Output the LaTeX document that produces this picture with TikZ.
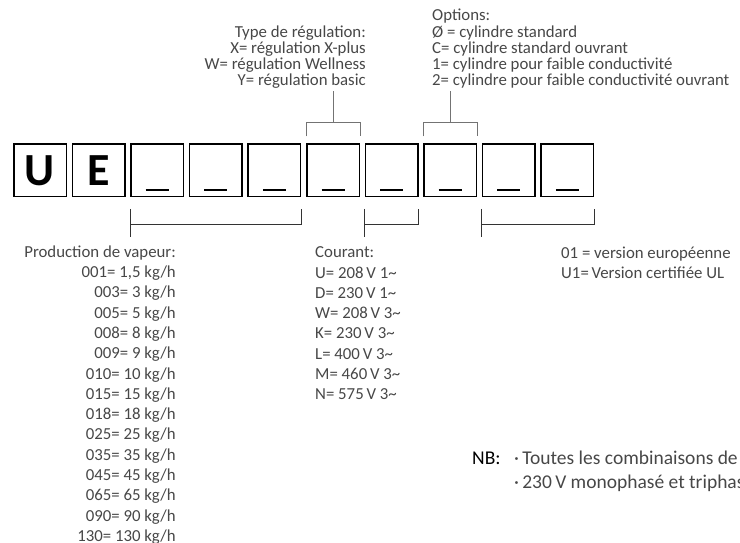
\documentclass[tikz,border=0pt]{standalone}
\usepackage{fontspec}
\setmainfont{Carlito}
\begin{document}
\begin{tikzpicture}[x=1pt, y=-1pt,
    codebox/.style={draw, line width=1.5pt, minimum size=52.5pt, inner sep=0pt, font=\fontsize{46}{46}\selectfont\bfseries},
    codebar/.style={line width=2pt},
    brk/.style={line width=0.8pt, black!80},
    topbrk/.style={line width=0.8pt, black!55},
    txt/.style={font=\fontsize{16.8}{20}\selectfont, text=black!72, inner sep=0pt},
    nbtxt/.style={font=\fontsize{19.5}{24}\selectfont, text=black!72, inner sep=0pt},
  ]
    % page frame, text running past it is cut
    \useasboundingbox (0,0) rectangle (740,543);
    \clip (0,0) rectangle (740,543);

    % === Code boxes U E _ _ _ ... ===
    \foreach \i/\l in {1/U,2/E,3/,4/,5/,6/,7/,8/,9/,10/} {
      \node[codebox] (b\i) at ({40+58.6*(\i-1)},170.4) {\l};
    }
    \foreach \i in {3,...,10} {
      \draw[codebar] ([xshift=-11.5pt,yshift=7pt]b\i.south) -- ([xshift=11.5pt,yshift=7pt]b\i.south);
    }

    % === Top brackets ===
    \foreach \i in {6,8} {
      \draw[topbrk] ([yshift=7pt]b\i.north west) -- ([yshift=21pt]b\i.north west)
        -- ([yshift=21pt]b\i.north east) -- ([yshift=7pt]b\i.north east);
      \draw[topbrk] ([yshift=21pt]b\i.north) -- ([yshift=52pt]b\i.north);
    }

    % === Bottom brackets ===
    \foreach \a/\b in {3/5, 7/7, 9/10} {
      \draw[brk] ([yshift=-11.5pt]b\a.south west) -- ([yshift=-40pt]b\a.south west);
      \draw[brk] ([yshift=-26.5pt]b\a.south west) -- ([yshift=-26.5pt]b\b.south east)
        -- ([yshift=-11.5pt]b\b.south east);
    }

    % Type de regulation (right aligned)
    \foreach \t [count=\k from 1] in {Type de régulation:, X= régulation X-plus,
        W= régulation Wellness, Y= régulation basic} {
      \node[txt, anchor=base east] (reg\k) at (366,{21+16.1*\k}) {\t};
    }

    % Options
    \foreach \t [count=\k from 0] in {Options:, Ø = cylindre standard,
        C= cylindre standard ouvrant, 1= cylindre pour faible conductivité,
        2= cylindre pour faible conductivité ouvrant} {
      \node[txt, anchor=base west] (opt\k) at (432,{21+16.1*\k}) {\t};
    }

    % Production de vapeur
    \node[txt, anchor=base east] (prod) at (176,257.5) {Production de vapeur:};
    \foreach \c/\v [count=\k from 0] in {001/{1,5}, 003/3, 005/5, 008/8, 009/9,
        010/10, 015/15, 018/18, 025/25, 035/35, 045/45, 065/65, 090/90, 130/130} {
      \node[txt, anchor=base east] (prod\c) at (176,{277.5+20.3*\k}) {\c= \v\ kg/h};
    }

    % Courant
    \foreach \t [count=\k from 0] in {Courant:, U= 208\,V 1\textasciitilde,
        D= 230\,V 1\textasciitilde, W= 208\,V 3\textasciitilde, K= 230\,V 3\textasciitilde,
        L= 400\,V 3\textasciitilde, M= 460\,V 3\textasciitilde, N= 575\,V 3\textasciitilde} {
      \node[txt, anchor=base west] (cur\k) at (315,{257.7+20.3*\k}) {\t};
    }

    % Version
    \node[txt, anchor=base west] (ver1) at (561,258.5) {01 = version européenne};
    \node[txt, anchor=base west] (ver2) at (561,278) {U1=\,Version certifiée UL};

    % NB
    \node[nbtxt, text=black, anchor=base west] (nb) at (472,464) {NB:};
    \node[nbtxt, anchor=base west] (nb1) at (514,464) {\textperiodcentered\,Toutes les combinaisons de};
    \node[nbtxt, anchor=base west] (nb2) at (514,488) {\textperiodcentered\,230\,V monophasé et triphasé};
  \end{tikzpicture}
\end{document}
